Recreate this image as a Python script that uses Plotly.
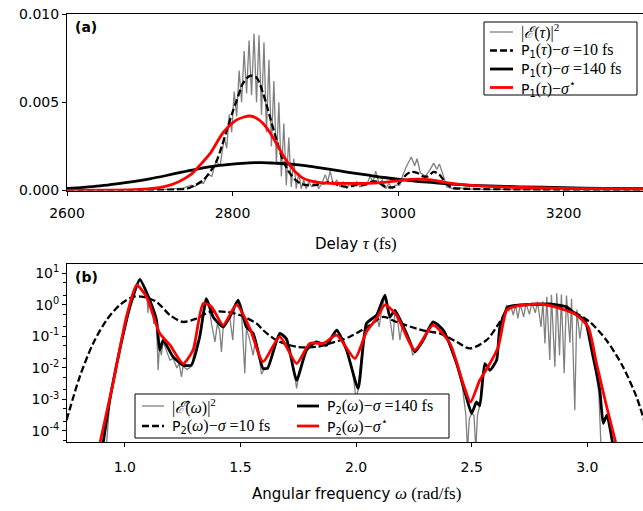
import plotly.graph_objects as go

# ---------------- Panel (a): delay domain ----------------
tau_gray = [2600, 2650, 2700, 2720, 2740, 2750, 2755, 2760, 2765, 2770, 2775, 2780, 2785, 2790, 2793,
            2796, 2799, 2802, 2805, 2808, 2811, 2814, 2817, 2820, 2823, 2826, 2829, 2832, 2835, 2838,
            2841, 2844, 2847, 2850, 2853, 2856, 2859, 2862, 2865, 2868, 2871, 2874, 2877, 2880, 2883,
            2886, 2889, 2892, 2896, 2900, 2904, 2908, 2912, 2915, 2918, 2922, 2926, 2930, 2934, 2938,
            2942, 2946, 2950, 2954, 2958, 2962, 2966, 2970, 2973, 2977, 2981, 2985, 2989, 2993, 2997,
            3002, 3006, 3010, 3016, 3020, 3023, 3027, 3033, 3039, 3043, 3047, 3050, 3055, 3059, 3067,
            3075, 3085, 3095, 3105, 3120, 3140, 3160, 3200, 3250, 3300]
E_tau_sq = [0.00002, 0.00002, 0.00004, 0.00007, 0.00014, 0.00030, 0.00022, 0.00048, 0.00040, 0.00092,
            0.00080, 0.00165, 0.00140, 0.00300, 0.00240, 0.00430, 0.00330, 0.00560, 0.00420, 0.00680,
            0.00500, 0.00790, 0.00550, 0.00850, 0.00540, 0.00890, 0.00500, 0.00880, 0.00430, 0.00840,
            0.00330, 0.00740, 0.00250, 0.00620, 0.00150, 0.00500, 0.00080, 0.00380, 0.00030, 0.00300,
            0.00020, 0.00180, 0.00010, 0.00100, 0.00010, 0.00060, 0.00010, 0.00050, 0.00020, 0.00060,
            0.00010, 0.00040, 0.00090, 0.00050, 0.00110, 0.00030, 0.00060, 0.00020, 0.00050, 0.00010,
            0.00040, 0.00020, 0.00050, 0.00020, 0.00040, 0.00030, 0.00080, 0.00050, 0.00110, 0.00040,
            0.00060, 0.00010, 0.00040, 0.00010, 0.00030, 0.00030, 0.00090, 0.00135, 0.00190, 0.00140,
            0.00180, 0.00100, 0.00080, 0.00120, 0.00155, 0.00120, 0.00150, 0.00080, 0.00020, 0.00010,
            0.00015, 0.00005, 0.00012, 0.00004, 0.00008, 0.00003, 0.00005, 0.00002, 0.00002, 0.00001]

tau_s10 = [2600, 2700, 2730, 2745, 2755, 2765, 2775, 2781, 2787, 2793, 2799, 2805, 2813, 2821, 2829,
           2837, 2845, 2853, 2861, 2869, 2876, 2882, 2890, 2900, 2910, 2918, 2928, 2938, 2948, 2958,
           2968, 2975, 2985, 2995, 3003, 3010, 3016, 3023, 3030, 3036, 3043, 3050, 3058, 3066, 3080,
           3150, 3300]
P1_s10 = [0.0, 0.00002, 0.00005, 0.0001, 0.0003, 0.0006, 0.0012, 0.0017, 0.0025, 0.0034, 0.0043,
          0.0051, 0.0061, 0.0065, 0.0064, 0.0055, 0.0042, 0.0029, 0.0017, 0.0010, 0.0006, 0.0004,
          0.0003, 0.0003, 0.0004, 0.0005, 0.0003, 0.0002, 0.0003, 0.0003, 0.0005, 0.0005, 0.0002,
          0.0002, 0.0005, 0.0009, 0.00105, 0.0010, 0.0008, 0.0008, 0.00105, 0.0009, 0.0004, 0.00015,
          0.0001, 0.00005, 0.00002]

tau_s140 = [2600, 2620, 2640, 2660, 2680, 2700, 2720, 2740, 2760, 2780, 2800, 2820, 2835, 2850, 2870,
            2890, 2906, 2922, 2940, 2962, 2980, 3002, 3020, 3043, 3060, 3083, 3110, 3147, 3200, 3250, 3300]
P1_s140 = [0.00012, 0.00018, 0.00026, 0.00037, 0.0005, 0.00066, 0.00085, 0.00105, 0.00124, 0.0014,
           0.0015, 0.00157, 0.00158, 0.00155, 0.0015, 0.0014, 0.00128, 0.00117, 0.00103, 0.00088,
           0.00075, 0.00063, 0.00053, 0.00044, 0.00037, 0.00031, 0.00026, 0.00021, 0.00016, 0.00012, 0.0001]

tau_sstar = [2600, 2650, 2680, 2700, 2720, 2735, 2749, 2760, 2773, 2789, 2805, 2813, 2821, 2829, 2837,
             2845, 2853, 2861, 2869, 2877, 2885, 2894, 2906, 2920, 2940, 2962, 2980, 3000, 3015, 3025,
             3040, 3055, 3070, 3085, 3103, 3125, 3150, 3200, 3250, 3300]
P1_sstar = [0.00001, 0.00002, 0.00005, 0.0001, 0.00025, 0.0005, 0.00088, 0.0014, 0.0021, 0.0033,
            0.0040, 0.00415, 0.00422, 0.0041, 0.0038, 0.0033, 0.00267, 0.0020, 0.00145, 0.0010,
            0.0007, 0.00055, 0.00044, 0.0004, 0.0004, 0.0004, 0.00045, 0.00055, 0.00063, 0.00065,
            0.0006, 0.00047, 0.00037, 0.0003, 0.00025, 0.0002, 0.00017, 0.00012, 0.0001, 0.00008]

tau_ticks = [2600, 2800, 3000, 3200]
a_yticks = [0.0, 0.005, 0.010]
a_yticklabels = ["0.000", "0.005", "0.010"]

# ---------------- Panel (b): frequency domain (values given as log10) ----------------
w_gray = [0.92, 0.935, 0.978, 1.022, 1.065, 1.095, 1.100, 1.105, 1.120, 1.125, 1.130, 1.137, 1.144, 1.150,
          1.158, 1.166, 1.180, 1.195, 1.209, 1.225, 1.235, 1.245, 1.252, 1.270, 1.288, 1.305, 1.324, 1.340,
          1.353, 1.365, 1.375, 1.390, 1.400, 1.410, 1.418, 1.425, 1.440, 1.454, 1.467, 1.475, 1.490, 1.505,
          1.519, 1.526, 1.540, 1.555, 1.565, 1.580, 1.591, 1.605, 1.618, 1.640, 1.670, 1.690, 1.700, 1.715,
          1.730, 1.743, 1.755, 1.786, 1.810, 1.829, 1.850, 1.872, 1.895, 1.916, 1.935, 1.959, 1.985, 2.000,
          2.009, 2.020, 2.045, 2.070, 2.089, 2.100, 2.110, 2.125, 2.135, 2.146, 2.160, 2.168, 2.180, 2.190,
          2.200, 2.218, 2.235, 2.245, 2.254, 2.270, 2.290, 2.310, 2.333, 2.355, 2.377, 2.400, 2.435, 2.460,
          2.475, 2.482, 2.490, 2.500, 2.510, 2.518, 2.525, 2.535, 2.545, 2.557, 2.570, 2.579, 2.595, 2.608,
          2.615, 2.622, 2.640, 2.651, 2.660, 2.670, 2.680, 2.690, 2.700, 2.710, 2.725, 2.735, 2.750, 2.760,
          2.775, 2.785, 2.800, 2.808, 2.817, 2.825, 2.838, 2.845, 2.860, 2.868, 2.880, 2.888, 2.900, 2.910,
          2.925, 2.932, 2.946, 2.955, 2.968, 2.980, 2.990, 3.005, 3.019, 3.035, 3.050, 3.060]
E_w_log = [-4.5, -3.05, -1.45, -0.08, 0.80, 0.35, -0.25, 0.28, -0.05, -0.6, -0.3, -0.55, -2.07, -1.3,
           -1.6, -1.15, -1.45, -1.75, -1.7, -2.0, -1.85, -2.28, -1.95, -2.05, -1.95, -1.3, -1.02, -0.3,
           0.18, -0.1, -0.6, -1.17, -0.6, -0.8, -1.49, -0.75, -0.55, -0.4, -1.12, -0.1, 0.13, -0.3,
           -2.17, -0.75, -1.1, -1.6, -1.1, -1.6, -2.2, -2.0, -2.05, -1.5, -0.92, -1.05, -1.15, -1.6,
           -2.0, -2.65, -2.1, -1.45, -1.2, -1.2, -1.3, -1.3, -1.0, -0.82, -1.0, -1.45, -2.1, -2.97,
           -2.7, -1.8, -0.6, -0.45, -0.35, -0.7, -0.2, 0.28, -0.1, -0.4, -1.12, -0.2, -0.5, -1.12,
           -0.6, -0.92, -1.2, -1.6, -1.5, -1.3, -1.15, -0.8, -0.56, -0.6, -0.82, -1.2, -1.9, -2.6,
           -3.5, -4.6, -3.6, -3.45, -3.5, -4.6, -3.5, -3.2, -2.4, -1.9, -2.0, -2.1, -1.9, -1.78,
           -1.2, -0.72, -0.3, 0.0, -0.2, -0.05, -0.32, 0.0, -0.43, 0.02, -0.38, 0.05, -0.3, 0.07,
           -0.25, 0.1, -0.7, 0.12, -1.22, 0.26, -1.75, 0.32, -1.96, 0.37, -1.6, 0.33, -2.17, 0.3,
           -1.2, 0.2, -3.34, -0.15, -1.07, -0.4, -0.5, -0.8, -1.45, -2.0, -2.8, -4.6]

w_s10 = [0.748, 0.805, 0.863, 0.921, 0.978, 1.036, 1.079, 1.137, 1.195, 1.252, 1.310, 1.368, 1.440, 1.497,
         1.570, 1.598, 1.656, 1.743, 1.829, 1.887, 1.973, 2.060, 2.117, 2.175, 2.262, 2.319, 2.362, 2.435,
         2.492, 2.564, 2.622, 2.665, 2.737, 2.838, 2.939, 3.011, 3.083, 3.155, 3.213, 3.245]
P2_s10_log = [-3.66, -2.28, -1.22, -0.48, 0.0, 0.26, 0.26, 0.1, -0.32, -0.54, -0.43, -0.22, -0.22, -0.32,
              -0.59, -0.8, -1.12, -1.33, -1.33, -1.22, -1.01, -0.64, -0.38, -0.54, -0.75, -0.85, -0.9, -1.17,
              -1.38, -1.12, -0.54, -0.06, 0.0, 0.0, -0.22, -0.54, -1.12, -1.97, -2.92, -3.65]

w_s140 = [0.906, 0.935, 0.978, 1.022, 1.065, 1.108, 1.137, 1.151, 1.166, 1.209, 1.252, 1.288, 1.324, 1.353,
          1.382, 1.425, 1.454, 1.490, 1.526, 1.555, 1.598, 1.618, 1.670, 1.699, 1.743, 1.786, 1.829, 1.872,
          1.916, 1.959, 2.009, 2.045, 2.089, 2.125, 2.146, 2.168, 2.218, 2.254, 2.290, 2.333, 2.377, 2.435,
          2.485, 2.500, 2.521, 2.535, 2.557, 2.579, 2.608, 2.622, 2.658, 2.708, 2.838, 2.910, 2.954, 2.990,
          3.019, 3.054, 3.069, 3.085, 3.112]
P2_s140_log = [-4.4, -3.02, -1.43, -0.06, 0.81, 0.15, -0.48, -1.43, -1.12, -1.65, -1.91, -1.91, -1.01, 0.2,
               -0.38, -0.7, -0.38, 0.15, -0.7, -0.9, -2.02, -2.0, -0.9, -1.07, -2.39, -1.43, -1.17, -1.28,
               -0.8, -1.43, -2.65, -0.59, -0.32, 0.31, -0.38, -0.17, -0.9, -1.49, -1.12, -0.54, -0.8, -1.86,
               -3.13, -3.44, -3.08, -3.2, -1.86, -2.07, -1.75, -0.7, -0.06, 0.0, 0.03, -0.06, -0.32, -0.48,
               -1.43, -2.7, -3.76, -3.5, -4.5]

w_sstar = [0.892, 0.949, 1.007, 1.051, 1.094, 1.151, 1.195, 1.252, 1.295, 1.339, 1.375, 1.425, 1.483, 1.541,
           1.598, 1.670, 1.743, 1.800, 1.858, 1.916, 1.995, 2.045, 2.089, 2.125, 2.175, 2.254, 2.333, 2.406,
           2.463, 2.495, 2.535, 2.579, 2.615, 2.651, 2.680, 2.795, 2.882, 2.954, 3.004, 3.040, 3.084, 3.124]
P2_sstar_log = [-4.4, -2.49, -0.38, 0.63, 0.26, -0.9, -1.27, -1.86, -1.43, 0.05, -0.06, -0.64, 0.0, -0.75,
                -1.8, -1.01, -1.86, -1.22, -1.22, -0.96, -1.7, -0.85, -0.43, 0.0, -0.32, -1.43, -0.64, -1.22,
                -2.49, -3.08, -2.39, -1.86, -1.33, -0.17, -0.06, 0.03, -0.11, -0.32, -0.7, -1.86, -3.23, -4.4]

w_ticks = [1.0, 1.5, 2.0, 2.5, 3.0]
w_ticklabels = ["1.0", "1.5", "2.0", "2.5", "3.0"]
b_yticks = [1e-4, 1e-3, 1e-2, 1e-1, 1e0, 1e1]
b_yticklabels = ["10<sup>-4</sup>", "10<sup>-3</sup>", "10<sup>-2</sup>", "10<sup>-1</sup>",
                 "10<sup>0</sup>", "10<sup>1</sup>"]


def unlog(v):
    return [10 ** x for x in v]


SANS = "DejaVu Sans"
SERIF = "Liberation Serif"


def serif(s, size=16):
    return "<span style='font-family:%s;font-size:%dpx'>%s</span>" % (SERIF, size, s)


W, H = 643, 511
ML, MR, MT, MB = 67, 0, 14, 69
PH = H - MT - MB
PW = W - ML - MR


def py2paper(py):
    return (H - MB - py) / PH


def px2paper(px):
    return (px - ML) / PW


GRAY = dict(color="#808080", width=1.3)
DASH = dict(color="black", width=2.3, dash="7px,3px")
BLACK = dict(color="black", width=2.8)
RED = dict(color="#ff0000", width=2.8)

fig = go.Figure()

# panel a traces
fig.add_trace(go.Scatter(x=tau_gray, y=E_tau_sq, mode="lines", line=GRAY, xaxis="x", yaxis="y"))
fig.add_trace(go.Scatter(x=tau_s10, y=P1_s10, mode="lines", line=dict(DASH, shape="spline", smoothing=0.8),
                         xaxis="x", yaxis="y"))
fig.add_trace(go.Scatter(x=tau_s140, y=P1_s140, mode="lines", line=dict(BLACK, shape="spline", smoothing=0.8),
                         xaxis="x", yaxis="y"))
fig.add_trace(go.Scatter(x=tau_sstar, y=P1_sstar, mode="lines", line=dict(RED, shape="spline", smoothing=0.8),
                         xaxis="x", yaxis="y"))

# panel b traces
fig.add_trace(go.Scatter(x=w_gray, y=unlog(E_w_log), mode="lines", line=GRAY, xaxis="x2", yaxis="y2"))
fig.add_trace(go.Scatter(x=w_s10, y=unlog(P2_s10_log), mode="lines", line=dict(DASH, shape="spline", smoothing=0.8),
                         xaxis="x2", yaxis="y2"))
fig.add_trace(go.Scatter(x=w_s140, y=unlog(P2_s140_log), mode="lines", line=dict(BLACK, shape="spline", smoothing=0.5),
                         xaxis="x2", yaxis="y2"))
fig.add_trace(go.Scatter(x=w_sstar, y=unlog(P2_sstar_log), mode="lines", line=dict(RED, shape="spline", smoothing=0.6),
                         xaxis="x2", yaxis="y2"))

axis_common = dict(showline=True, linecolor="black", linewidth=1, ticks="outside", ticklen=4,
                   tickwidth=1, tickcolor="black", showgrid=False, zeroline=False, automargin=False,
                   tickfont=dict(family=SANS, size=14, color="black"))

fig.update_layout(
    width=W, height=H,
    margin=dict(l=ML, r=MR, t=MT, b=MB, autoexpand=False),
    paper_bgcolor="white", plot_bgcolor="white",
    font=dict(family=SANS, size=14, color="black"),
    showlegend=False,
    xaxis=dict(domain=[0, 1], range=[2600, 3296], tickvals=tau_ticks, anchor="y", mirror=True,
               ticklabelstandoff=6, **axis_common),
    yaxis=dict(domain=[py2paper(190.5), 1], range=[0, 0.010], tickvals=a_yticks, ticktext=a_yticklabels,
               anchor="x", **axis_common),
    xaxis2=dict(domain=[0, 1], range=[0.75, 3.241], tickvals=w_ticks, ticktext=w_ticklabels,
                anchor="y2", mirror=True, ticklabelstandoff=8, **axis_common),
    yaxis2=dict(domain=[0, py2paper(264)], type="log", range=[-4.35, 1.3], tickvals=b_yticks,
                ticktext=b_yticklabels, anchor="x2",
                minor=dict(ticks="outside", ticklen=3, tickcolor="black", showgrid=False),
                **axis_common),
)

# ---- legends built from shapes + text ----
legend_a = [
    (GRAY, serif("|<i>ℰ</i>(<i>τ</i>)|<sup>2</sup>")),
    (DASH, "P<sub>1</sub>" + serif("(<i>τ</i>)−<i>σ</i> =10 fs")),
    (BLACK, "P<sub>1</sub>" + serif("(<i>τ</i>)−<i>σ</i> =140 fs")),
    (RED, "P<sub>1</sub>" + serif("(<i>τ</i>)−<i>σ</i><sup>⋆</sup>")),
]
legend_b = [
    (GRAY, serif("|<i>ℰ̂</i>(<i>ω</i>)|<sup>2</sup>"), 0, 0),
    (DASH, "P<sub>2</sub>" + serif("(<i>ω</i>)−<i>σ</i> =10 fs"), 0, 1),
    (BLACK, "P<sub>2</sub>" + serif("(<i>ω</i>)−<i>σ</i> =140 fs"), 1, 0),
    (RED, "P<sub>2</sub>" + serif("(<i>ω</i>)−<i>σ</i><sup>⋆</sup>"), 1, 1),
]

shapes = []
annotations = []


def box(x0, y0, x1, y1):
    shapes.append(dict(type="rect", xref="paper", yref="paper", layer="above",
                       x0=px2paper(x0), x1=px2paper(x1), y0=py2paper(y1), y1=py2paper(y0),
                       line=dict(color="black", width=1), fillcolor="white"))


def entry(style, text, sx0, sx1, tx, ty):
    ln = dict(color=style["color"], width=style["width"])
    if "dash" in style:
        ln["dash"] = style["dash"]
    shapes.append(dict(type="line", xref="paper", yref="paper", layer="above",
                       x0=px2paper(sx0), x1=px2paper(sx1), y0=py2paper(ty), y1=py2paper(ty), line=ln))
    annotations.append(dict(text=text, x=px2paper(tx), y=py2paper(ty), xref="paper", yref="paper",
                            xanchor="left", yanchor="middle", showarrow=False,
                            font=dict(family=SANS, size=14, color="black")))


box(484, 22, 637, 95)
for i, (st, tx) in enumerate(legend_a):
    entry(st, tx, 490, 513, 519, 32 + i * 18.5)

box(135, 394, 449, 438)
for st, tx, col, row in legend_b:
    sx = 142 if col == 0 else 297
    entry(st, tx, sx, sx + 22, sx + 28, 406 + row * 20)

annotations += [
    dict(text="<b>(a)</b>", x=px2paper(73), y=py2paper(27), xref="paper", yref="paper",
         xanchor="left", yanchor="middle", showarrow=False, font=dict(family=SANS, size=14)),
    dict(text="<b>(b)</b>", x=px2paper(73), y=py2paper(277), xref="paper", yref="paper",
         xanchor="left", yanchor="middle", showarrow=False, font=dict(family=SANS, size=14)),
    dict(text="Delay " + serif("<i>τ</i> (fs)", 17), x=px2paper(356), y=py2paper(243), xref="paper", yref="paper",
         xanchor="center", yanchor="middle", showarrow=False, font=dict(family=SANS, size=15)),
    dict(text="Angular frequency " + serif("<i>ω</i> (rad/fs)", 17), x=px2paper(356), y=py2paper(494),
         xref="paper", yref="paper", xanchor="center", yanchor="middle", showarrow=False,
         font=dict(family=SANS, size=15)),
]
fig.update_layout(shapes=shapes, annotations=annotations)

fig.write_html("out.html", config={"displayModeBar": False},
               post_script="document.body.style.margin='0px';")
